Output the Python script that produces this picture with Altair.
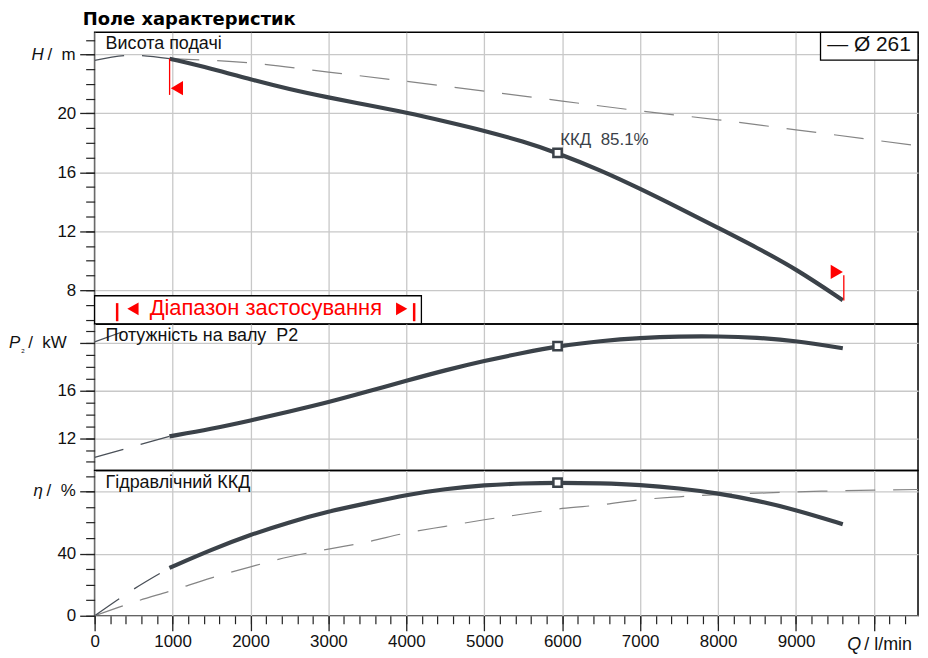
import altair as alt
import pandas as pd

# ---------------- data ----------------
# Head curve H(Q) (solid), Q in l/min, H in m
q_head = [960, 1500, 2000, 2500, 3000, 3500, 4000, 4500, 5000, 5500, 5940,
          6500, 7000, 7500, 8000, 8500, 9000, 9600]
h_head = [23.72, 23.05, 22.31, 21.64, 21.08, 20.58, 20.06, 19.46, 18.83, 18.1, 17.32,
          16.13, 14.89, 13.58, 12.23, 10.88, 9.44, 7.32]
# head curve below the application range (dashed)
q_head_ext = [0, 500, 960]
h_head_ext = [23.6, 23.95, 23.72]
# second head curve (dashed grey)
q_head2 = [960, 2000, 3000, 4000, 5000, 6000, 7000, 8000, 9000, 10565]
h_head2 = [23.72, 23.43, 22.81, 22.18, 21.52, 20.84, 20.17, 19.57, 18.89, 17.8]

# Shaft power P2
q_pow = [960, 1500, 2000, 2500, 3000, 3500, 4000, 4500, 5000, 5500, 5940,
         6500, 7000, 7500, 8000, 8500, 9000, 9600]
p_pow = [12.15, 12.78, 13.48, 14.24, 15.02, 15.92, 16.84, 17.73, 18.52, 19.2, 19.76,
         20.2, 20.45, 20.58, 20.59, 20.48, 20.2, 19.58]
q_pow_ext = [0, 960]
p_pow_ext = [10.37, 12.15]
q_pow2 = [0, 374]
p_pow2 = [20.12, 21.0]

# Hydraulic efficiency
q_eff = [960, 1500, 2000, 2500, 3000, 3500, 4000, 4500, 5000, 5500, 5940,
         6500, 7000, 7500, 8000, 8500, 9000, 9600]
e_eff = [30.8, 42.6, 52.2, 60.3, 67.2, 72.5, 77.9, 81.7, 84.1, 85.3, 85.7,
         85.3, 84.3, 82.1, 78.9, 74.2, 68.2, 59.0]
q_eff_ext = [0, 500, 960]
e_eff_ext = [0, 17.1, 30.8]
q_eff2 = [0, 500, 1000, 1500, 2000, 2500, 3000, 3500, 4000, 4500, 5000,
          5500, 6000, 6500, 7000, 7500, 8000, 8500, 9000, 9500, 10000, 10565]
e_eff2 = [0, 8.7, 16.4, 24.4, 31.5, 38.0, 42.9, 47.6, 53.3, 57.6, 61.8,
          65.5, 69.1, 71.4, 74.7, 76.6, 78.0, 78.9, 79.8, 80.4, 80.9, 81.3]

# best efficiency point
q_bep = [5940]
h_bep = [17.32]
p_bep = [19.76]
e_bep = [85.7]
bep_label = ["ККД\u00a0\u00a085.1%"]

# application range markers
range_box_q = [0, 4193]
range_box_h = [5.7, 7.62]
range_bar_q = [289, 4100]
range_bar_h = [5.89, 7.12]
range_tri_q = [492, 3940]
range_tri_h = [6.73, 6.73]
range_text = ["Діапазон застосування"]
range_text_q = [2197]
range_text_h = [6.78]
end_rule_q = [962, 9613]
end_rule_h1 = [23.72, 9.02]
end_rule_h2 = [21.26, 7.3]
end_tri_q = [1056, 9523]
end_tri_h = [21.72, 9.24]

# legend
legend_box_q = [9314, 10565]
legend_box_h = [23.62, 25.51]
legend_text = ["— Ø 261"]

# panel texts
panel_titles = ["Висота подачі", "Потужність на валу\u00a0\u00a0P2", "Гідравлічний ККД"]
chart_title = "Поле характеристик"

# ticks
x_major = list(range(0, 10001, 1000))
x_minor = list(range(0, 10401, 200))
h_major = [8, 12, 16, 20, 24]
h_minor = list(range(6, 26))
p_major = [12, 16, 20]
p_minor = list(range(10, 22))
e_major = [0, 40, 80]
e_minor = list(range(0, 91, 10))

# ---------------- styling ----------------
LINE = "#3b4249"
GRID = "#c8c8c8"
FONT = "Liberation Sans"
TXT = "#111111"
W = 827
H1, H2, H3 = 293, 147, 146

xs = alt.Scale(domain=[0, 10565], nice=False, zero=False)
ys_h = alt.Scale(domain=[5.7, 25.51], nice=False, zero=False)
ys_p = alt.Scale(domain=[9.28, 21.62], nice=False, zero=False)
ys_e = alt.Scale(domain=[0, 93.6], nice=False, zero=False)


def xgrid_axis(bottom):
    if bottom:
        return alt.Axis(orient="bottom", values=x_major, grid=True, gridColor=GRID,
                        gridWidth=1.3, ticks=True, tickSize=15, tickWidth=1.3,
                        tickColor="#222222", labels=True, labelFontSize=17, labelPadding=3,
                        labelFlush=False, format="d",
                        labelExpr="datum.value == 10000 ? '' : datum.label",
                        domain=False, title=None)
    return alt.Axis(orient="bottom", values=x_major, grid=True, gridColor=GRID, gridWidth=1.3,
                    ticks=False, labels=False, domain=False, title=None,
                    minExtent=0, maxExtent=0)


def xminor_axis():
    return alt.Axis(orient="bottom", values=x_minor, grid=False, ticks=True, tickSize=8,
                    tickWidth=1.2, tickColor="#222222", labels=False, domain=False, title=None)


def ymajor_axis(vals, hide):
    return alt.Axis(orient="left", values=vals, grid=True, gridColor=GRID, gridWidth=1.3,
                    ticks=True, tickSize=15, tickWidth=1.3, tickColor="#222222",
                    labels=True, labelFontSize=17, labelPadding=4,
                    labelExpr=f"datum.value == {hide} ? '' : datum.label",
                    domain=False, title=None)


def yminor_axis(vals):
    return alt.Axis(orient="left", values=vals, grid=False, ticks=True, tickSize=9,
                    tickWidth=1.2, tickColor="#222222", labels=False, domain=False, title=None)


def line(q, v, ys, color, width, dash=None, xaxis=None, yaxis=None, interp="monotone"):
    d = pd.DataFrame({"q": q, "v": v})
    kw = dict(color=color, strokeWidth=width, clip=True, interpolate=interp)
    if dash:
        kw["strokeDash"] = dash
    return alt.Chart(d).mark_line(**kw).encode(
        x=alt.X("q:Q", scale=xs, axis=xaxis),
        y=alt.Y("v:Q", scale=ys, axis=yaxis),
    )


def text_at(q, v, t, ys, **mk):
    d = pd.DataFrame({"q": q, "v": v, "t": t})
    return alt.Chart(d).mark_text(**mk).encode(
        x=alt.X("q:Q", scale=xs, axis=None),
        y=alt.Y("v:Q", scale=ys, axis=None),
        text="t:N",
    )


def text_px(xpx, v, t, ys, **mk):
    d = pd.DataFrame({"v": v, "t": t})
    return alt.Chart(d).mark_text(**mk).encode(
        x=alt.value(xpx),
        y=alt.Y("v:Q", scale=ys, axis=None),
        text="t:N",
    )


def bep(v, ys):
    d = pd.DataFrame({"q": q_bep, "v": v})
    return alt.Chart(d).mark_point(shape="square", filled=True, fill="white",
                                   stroke=LINE, strokeWidth=2.5, size=70, opacity=1).encode(
        x=alt.X("q:Q", scale=xs, axis=None),
        y=alt.Y("v:Q", scale=ys, axis=None),
    )


# ---------------- panel 1: head ----------------
p1_layers = [
    line(q_head2, h_head2, ys_h, "#858585", 1.2, [30, 18], None, yminor_axis(h_minor)),
    line(q_head_ext, h_head_ext, ys_h, "#4a5058", 1.3, [30, 18]),
]
rb = pd.DataFrame({"q": [range_box_q[0]], "q2": [range_box_q[1]],
                   "v": [range_box_h[0]], "v2": [range_box_h[1]]})
p1_layers.append(alt.Chart(rb).mark_rect(fill="white", stroke="black", strokeWidth=1.3).encode(
    x=alt.X("q:Q", scale=xs, axis=None), x2="q2",
    y=alt.Y("v:Q", scale=ys_h, axis=None), y2="v2"))
rbar = pd.DataFrame({"q": range_bar_q, "v": [range_bar_h[0]] * 2, "v2": [range_bar_h[1]] * 2})
p1_layers.append(alt.Chart(rbar).mark_rule(color="red", strokeWidth=2.5).encode(
    x=alt.X("q:Q", scale=xs, axis=None),
    y=alt.Y("v:Q", scale=ys_h, axis=None), y2="v2"))
rtri = pd.DataFrame({"q": range_tri_q, "v": range_tri_h, "s": ["triangle-left", "triangle-right"]})
p1_layers.append(alt.Chart(rtri).mark_point(filled=True, color="red", size=170, opacity=1).encode(
    x=alt.X("q:Q", scale=xs, axis=None),
    y=alt.Y("v:Q", scale=ys_h, axis=None),
    shape=alt.Shape("s:N", scale=None, legend=None)))
p1_layers.append(text_at(range_text_q, range_text_h, range_text, ys_h, color="red",
                         fontSize=22, font=FONT, align="center", baseline="middle"))
p1_layers.append(line(q_head, h_head, ys_h, LINE, 4.2, None, xgrid_axis(False),
                      ymajor_axis(h_major, 24), "basis"))
p1_layers.append(bep(h_bep, ys_h))
erule = pd.DataFrame({"q": end_rule_q, "v": end_rule_h1, "v2": end_rule_h2})
p1_layers.append(alt.Chart(erule).mark_rule(color="red", strokeWidth=1.3).encode(
    x=alt.X("q:Q", scale=xs, axis=None),
    y=alt.Y("v:Q", scale=ys_h, axis=None), y2="v2"))
etri = pd.DataFrame({"q": end_tri_q, "v": end_tri_h, "s": ["triangle-left", "triangle-right"]})
p1_layers.append(alt.Chart(etri).mark_point(filled=True, color="red", size=200, opacity=1).encode(
    x=alt.X("q:Q", scale=xs, axis=None),
    y=alt.Y("v:Q", scale=ys_h, axis=None),
    shape=alt.Shape("s:N", scale=None, legend=None)))
lb = pd.DataFrame({"q": [legend_box_q[0]], "q2": [legend_box_q[1]],
                   "v": [legend_box_h[0]], "v2": [legend_box_h[1]]})
p1_layers.append(alt.Chart(lb).mark_rect(fill="white", stroke="black", strokeWidth=1.3).encode(
    x=alt.X("q:Q", scale=xs, axis=None), x2="q2",
    y=alt.Y("v:Q", scale=ys_h, axis=None), y2="v2"))
p1_layers.append(text_at([9400], [24.68], legend_text, ys_h, color=TXT, fontSize=21,
                         font=FONT, align="left", baseline="middle"))
p1_layers.append(text_at([140], [24.72], [panel_titles[0]], ys_h, color=TXT, fontSize=18,
                         font=FONT, align="left", baseline="middle"))
p1_layers.append(text_at([5973], [18.19], bep_label, ys_h, color="#3b4249", fontSize=17,
                         font=FONT, align="left", baseline="middle"))
p1_layers.append(text_px(-51, [24], ["H"], ys_h, color=TXT, fontSize=17, font=FONT,
                         fontStyle="italic", align="right", baseline="middle"))
p1_layers.append(text_px(-19, [24], ["/\u00a0\u00a0m"], ys_h, color=TXT, fontSize=17,
                         font=FONT, align="right", baseline="middle"))
tdf = pd.DataFrame({"t": [chart_title]})
p1_layers.append(alt.Chart(tdf).mark_text(fontSize=18, font="DejaVu Sans", fontWeight="bold",
                                          color="black", align="left", baseline="middle").encode(
    x=alt.value(-12), y=alt.value(-12.3), text="t:N"))

panel1 = alt.layer(*p1_layers).resolve_axis(x="independent", y="independent").properties(
    width=W, height=H1)

# ---------------- panel 2: power ----------------
p2_layers = [
    line(q_pow2, p_pow2, ys_p, "#4a5058", 1.2, [30, 18], None, yminor_axis(p_minor)),
    line(q_pow_ext, p_pow_ext, ys_p, "#4a5058", 1.3, [30, 18]),
    line(q_pow, p_pow, ys_p, LINE, 4.2, None, xgrid_axis(False), ymajor_axis(p_major, 20),
         "basis"),
    bep(p_bep, ys_p),
    text_at([140], [20.59], [panel_titles[1]], ys_p, color=TXT, fontSize=18, font=FONT,
            align="left", baseline="middle"),
    text_px(-86, [20], ["P"], ys_p, color=TXT, fontSize=17, font=FONT, fontStyle="italic",
            align="left", baseline="middle"),
    text_px(-74, [19.55], ["₂"], ys_p, color=TXT, fontSize=10, font=FONT,
            align="left", baseline="middle"),
    text_px(-28, [20], ["/\u00a0\u00a0kW"], ys_p, color=TXT, fontSize=17, font=FONT,
            align="right", baseline="middle"),
]
panel2 = alt.layer(*p2_layers).resolve_axis(x="independent", y="independent").properties(
    width=W, height=H2)

# ---------------- panel 3: efficiency ----------------
qdf = pd.DataFrame({"t": ["Q"]})
udf = pd.DataFrame({"t": ["/\u00a0l/min"]})
p3_layers = [
    line(q_eff2, e_eff2, ys_e, "#858585", 1.2, [30, 18], xminor_axis(), yminor_axis(e_minor)),
    line(q_eff_ext, e_eff_ext, ys_e, "#4a5058", 1.3, [30, 18]),
    line(q_eff, e_eff, ys_e, LINE, 4.2, None, xgrid_axis(True), ymajor_axis(e_major, 80),
         "basis"),
    bep(e_bep, ys_e),
    text_at([140], [85.6], [panel_titles[2]], ys_e, color=TXT, fontSize=18, font=FONT,
            align="left", baseline="middle"),
    text_px(-52, [80], ["η"], ys_e, color=TXT, fontSize=17, font=FONT, fontStyle="italic",
            align="right", baseline="middle"),
    text_px(-19, [80], ["/\u00a0\u00a0%"], ys_e, color=TXT, fontSize=17, font=FONT,
            align="right", baseline="middle"),
    alt.Chart(qdf).mark_text(fontSize=18, font=FONT, fontStyle="italic", color=TXT,
                             align="right", baseline="middle").encode(
        x=alt.value(770), y=alt.value(H3 + 29), text="t:N"),
    alt.Chart(udf).mark_text(fontSize=18, font=FONT, color=TXT,
                             align="left", baseline="middle").encode(
        x=alt.value(773), y=alt.value(H3 + 29), text="t:N"),
]
panel3 = alt.layer(*p3_layers).resolve_axis(x="independent", y="independent").properties(
    width=W, height=H3)

chart = alt.vconcat(panel1, panel2, panel3, spacing=0, bounds="flush").properties(
    padding={"left": 0, "top": 0, "right": 0, "bottom": 0}
).configure_view(stroke="black", strokeWidth=1.5).configure_axis(
    labelFont=FONT, labelColor=TXT
)

chart.save("out.html", embed_options={"renderer": "svg", "actions": False})
